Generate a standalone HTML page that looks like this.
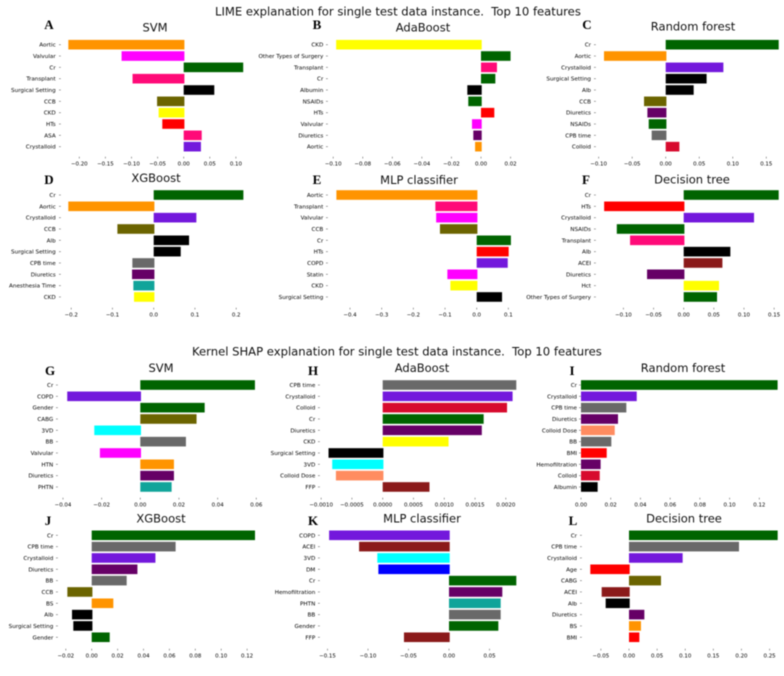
<!DOCTYPE html>
<html lang="en">
<head>
<meta charset="utf-8">
<title>LIME and Kernel SHAP explanations</title>
<style>
html,body{margin:0;padding:0;background:#fff;width:784px;height:676px;overflow:hidden}
svg{display:block;filter:blur(0.4px)}
text{font-family:"DejaVu Sans","Liberation Sans",sans-serif;fill:#111}
.main{font-size:11.6px;white-space:pre}
.sub{font-size:11.5px;text-anchor:middle}
.letter{font-family:"Liberation Serif",serif;font-weight:bold;font-size:13px;text-anchor:middle;fill:#000}
.cat{font-size:5.65px;text-anchor:end;fill:#000}
.tick{font-size:5.45px;text-anchor:middle;fill:#000}
</style>
</head>
<body>
<svg id="fig" width="784" height="676" viewBox="0 0 784 676" xmlns="http://www.w3.org/2000/svg">
  <rect x="0" y="0" width="784" height="676" fill="#fff"/>
  <text class="main" x="215" y="15.5">LIME explanation for single test data instance.  Top 10 features</text>
  <text class="main" x="192" y="355.5">Kernel SHAP explanation for single test data instance.  Top 10 features</text>
</svg>
<script>
const aFeatures=["Aortic","Valvular","Cr","Transplant","Surgical Setting","CCB","CKD","HTs","ASA","Crystalloid"];
const aValues=[-0.221,-0.119,0.114,-0.098,0.0586,-0.051,-0.048,-0.041,0.0345,0.033];
const aTicks=[-0.20,-0.15,-0.10,-0.05,0,0.05,0.10];

const bFeatures=["CKD","Other Types of Surgery","Transplant","Cr","Albumin","NSAIDs","HTs","Valvular","Diuretics","Aortic"];
const bValues=[-0.098,0.020,0.0108,0.0097,-0.00925,-0.0086,0.009,-0.0061,-0.0052,-0.004];
const bTicks=[-0.10,-0.08,-0.06,-0.04,-0.02,0,0.02];

const cFeatures=["Cr","Aortic","Crystalloid","Surgical Setting","Alb","CCB","Diuretics","NSAIDs","CPB time","Colloid"];
const cValues=[0.1685,-0.092,0.086,0.061,0.0417,-0.0323,-0.0273,-0.0253,-0.0209,0.0204];
const cTicks=[-0.10,-0.05,0,0.05,0.10,0.15];

const dFeatures=["Cr","Aortic","Crystalloid","CCB","Alb","Surgical Setting","CPB time","Diuretics","Anesthesia Time","CKD"];
const dValues=[0.2174,-0.207,0.1034,-0.088,0.0857,0.0655,-0.0517,-0.0525,-0.0493,-0.0477];
const dTicks=[-0.2,-0.1,0,0.1,0.2];

const eFeatures=["Aortic","Transplant","Valvular","CCB","Cr","HTs","COPD","Statin","CKD","Surgical Setting"];
const eValues=[-0.443,-0.1305,-0.128,-0.116,0.108,0.101,0.098,-0.0926,-0.083,0.08];
const eTicks=[-0.4,-0.3,-0.2,-0.1,0,0.1];

const fFeatures=["Cr","HTs","Crystalloid","NSAIDs","Transplant","Alb","ACEI","Diuretics","Hct","Other Types of Surgery"];
const fValues=[0.1576,-0.132,0.1167,-0.111,-0.089,0.0774,0.0642,-0.0608,0.0586,0.0553];
const fTicks=[-0.10,-0.05,0,0.05,0.10,0.15];

const gFeatures=["Cr","COPD","Gender","CABG","3VD","BB","Valvular","HTN","Diuretics","PHTN"];
const gValues=[0.0593,-0.0378,0.0333,0.0291,-0.0238,0.0236,-0.0209,0.0174,0.0174,0.0162];
const gTicks=[-0.04,-0.02,0,0.02,0.04,0.06];

const hFeatures=["CPB time","Crystalloid","Colloid","Cr","Diuretics","CKD","Surgical Setting","3VD","Colloid Dose","FFP"];
const hValues=[0.00217,0.00211,0.00202,0.00164,0.00161,0.00107,-0.00088,-0.00082,-0.00076,0.00076];
const hTicks=[-0.0010,-0.0005,0,0.0005,0.0010,0.0015,0.0020];

const iFeatures=["Cr","Crystalloid","CPB time","Diuretics","Colloid Dose","BB","BMI","Hemofiltration","Colloid","Albumin"];
const iValues=[0.1323,0.0375,0.0305,0.0249,0.0227,0.0204,0.0173,0.0132,0.0126,0.0112];
const iTicks=[0,0.02,0.04,0.06,0.08,0.10,0.12];

const jFeatures=["Cr","CPB time","Crystalloid","Diuretics","BB","CCB","BS","Alb","Surgical Setting","Gender"];
const jValues=[0.1261,0.0648,0.0492,0.0353,0.027,-0.0188,0.0167,-0.0152,-0.0142,0.0139];
const jTicks=[-0.02,0,0.02,0.04,0.06,0.08,0.10,0.12];

const kFeatures=["COPD","ACEI","3VD","DM","Cr","Hemofiltration","PHTN","BB","Gender","FFP"];
const kValues=[-0.148,-0.111,-0.0885,-0.0872,0.0831,0.0658,0.0638,0.0638,0.0609,-0.0556];
const kTicks=[-0.15,-0.10,-0.05,0,0.05];

const lFeatures=["Cr","CPB time","Crystalloid","Age","CABG","ACEI","Alb","Diuretics","BS","BMI"];
const lValues=[0.2644,0.1956,0.0954,-0.0688,0.0569,-0.0486,-0.0415,0.0273,0.0213,0.0184];
const lTicks=[-0.05,0,0.05,0.10,0.15,0.20,0.25];

const featureColors={
  "Aortic":"#ff9400","BS":"#ff9400","HTN":"#ff9400",
  "Valvular":"#ff00ff","Statin":"#ff00ff",
  "Cr":"#006400","NSAIDs":"#006400","Other Types of Surgery":"#006400","Gender":"#006400",
  "Transplant":"#ff0a78","ASA":"#ff0a78",
  "Surgical Setting":"#000000","Alb":"#000000","Albumin":"#000000",
  "CCB":"#6b6400","CABG":"#6b6400",
  "CKD":"#ffff00","Hct":"#ffff00",
  "HTs":"#ff0000","Age":"#ff0000","BMI":"#ff0000",
  "Crystalloid":"#7318dc","COPD":"#7318dc",
  "Diuretics":"#660066","Hemofiltration":"#660066",
  "CPB time":"#696969","BB":"#696969",
  "Colloid":"#d70a2d","Colloid Dose":"#ff8c60",
  "ACEI":"#8b1a1a","FFP":"#8b1a1a",
  "Anesthesia Time":"#10a49a","PHTN":"#10a49a",
  "3VD":"#00ffff","DM":"#0000ff"
};

const panels=[
 {id:"a",letter:"A",title:"SVM",features:aFeatures,values:aValues,ticks:aTicks,dec:2,zero:183.7,k:522,first:44.7,catX:55.7,tickX:59,letterX:49,letterY:29,titleX:155,titleY:31.5,axisY:156.7},
 {id:"b",letter:"B",title:"AdaBoost",features:bFeatures,values:bValues,ticks:bTicks,dec:2,zero:481,k:1478,first:44.7,catX:323.3,tickX:326,letterX:317,letterY:29,titleX:423,titleY:31.5,axisY:156.7},
 {id:"c",letter:"C",title:"Random forest",features:cFeatures,values:cValues,ticks:cTicks,dec:2,zero:665.7,k:670.6,first:44.7,catX:591,tickX:594,letterX:587,letterY:29,titleX:693,titleY:30.5,axisY:156.7},
 {id:"d",letter:"D",title:"XGBoost",features:dFeatures,values:dValues,ticks:dTicks,dec:1,zero:153.7,k:412.5,first:195,catX:55.7,tickX:59,letterX:49,letterY:184,titleX:156,titleY:182,axisY:307.7},
 {id:"e",letter:"E",title:"MLP classifier",features:eFeatures,values:eValues,ticks:eTicks,dec:1,zero:476.7,k:316.7,first:195,catX:323.3,tickX:326,letterX:317,letterY:184,titleX:419,titleY:184,axisY:307.7},
 {id:"f",letter:"F",title:"Decision tree",features:fFeatures,values:fValues,ticks:fTicks,dec:2,zero:683.7,k:602.7,first:195,catX:591,tickX:594,letterX:586,letterY:184,titleX:692,titleY:183.5,axisY:307.7},
 {id:"g",letter:"G",title:"SVM",features:gFeatures,values:gValues,ticks:gTicks,dec:2,zero:140.3,k:1933,first:385,catX:53.3,tickX:56,letterX:50,letterY:375,titleX:161,titleY:372,axisY:497.7},
 {id:"h",letter:"H",title:"AdaBoost",features:hFeatures,values:hValues,ticks:hTicks,dec:4,zero:382.7,k:61556,first:385,catX:315.3,tickX:318,letterX:313,letterY:375,titleX:422,titleY:372,axisY:497.7},
 {id:"i",letter:"I",title:"Random forest",features:iFeatures,values:iValues,ticks:iTicks,dec:2,zero:581,k:1486,first:385,catX:577,tickX:579,letterX:572,letterY:375,titleX:683,titleY:372,axisY:497.7},
 {id:"j",letter:"J",title:"XGBoost",features:jFeatures,values:jValues,ticks:jTicks,dec:2,zero:91.7,k:1295,first:535.3,catX:53.3,tickX:56,letterX:48,letterY:525,titleX:161,titleY:522.5,axisY:648.7},
 {id:"k",letter:"K",title:"MLP classifier",features:kFeatures,values:kValues,ticks:kTicks,dec:2,zero:449,k:810,first:535.3,catX:315.3,tickX:318,letterX:313,letterY:525,titleX:422,titleY:522.5,axisY:648.7},
 {id:"l",letter:"L",title:"Decision tree",features:lFeatures,values:lValues,ticks:lTicks,dec:2,zero:629,k:562.3,first:535.3,catX:577,tickX:580,letterX:573,letterY:525,titleX:684,titleY:522.5,axisY:648.7}
];

const NS="http://www.w3.org/2000/svg";
const fig=document.getElementById("fig");
const ROW=11.33, BAR=9.6;

function make(parent,tag,attrs,txt){
  const el=document.createElementNS(NS,tag);
  for(const key in attrs){el.setAttribute(key,attrs[key]);}
  if(txt!==undefined){el.textContent=txt;}
  parent.appendChild(el);
  return el;
}
function xScale(p,v){return p.zero+v*p.k;}
function yScale(p,i){return p.first+i*ROW;}
function fmt(v,dec){return v.toFixed(dec).replace("-","\u2212");}

panels.forEach(function(p){
  const g=make(fig,"g",{});
  
  

  const letter=make(g,"text",{class:"letter",x:p.letterX,y:p.letterY},p.letter);
  
  

  const title=make(g,"text",{class:"sub",x:p.titleX,y:p.titleY},p.title);
  
  

  p.features.forEach(function(name,i){
    const v=p.values[i];
    const y=yScale(p,i);
    const x0=xScale(p,0), x1=xScale(p,v);
    const left=Math.min(x0,x1);
    const width=Math.abs(x1-x0)+(v<0?0.7:0);

    const bar=make(g,"rect",{x:left,y:y-BAR/2,width:width,height:BAR,fill:featureColors[name]});
    
    

    const tick=make(g,"line",{x1:p.tickX,x2:p.tickX+1.8,y1:y,y2:y,stroke:"#444","stroke-width":0.5});
    
    

    const label=make(g,"text",{class:"cat",x:p.catX,y:y+2},name);
    
    
  });

  p.ticks.forEach(function(v){
    const x=xScale(p,v);
    const tick=make(g,"line",{x1:x,x2:x,y1:p.axisY,y2:p.axisY+1.8,stroke:"#444","stroke-width":0.5});
    
    

    const label=make(g,"text",{class:"tick",x:x,y:p.axisY+8.6},fmt(v,p.dec));
    
    
  });
});
</script>
</body>
</html>
